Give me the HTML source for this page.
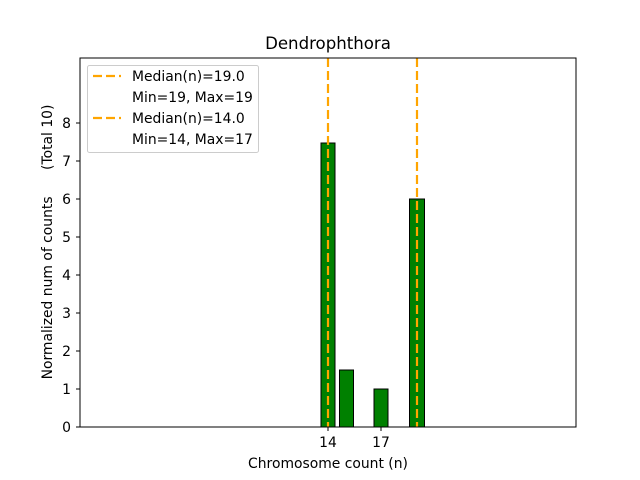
<!DOCTYPE html><html><head><style>body{margin:0;background:#fff}svg{display:block}text{font-family:"DejaVu Sans","Liberation Sans",sans-serif;font-size:13.9px;fill:#000;white-space:pre}</style></head><body>
<svg width="640" height="480" xmlns="http://www.w3.org/2000/svg">
<rect width="640" height="480" fill="#fff"/>
<g fill="green" stroke="#000" stroke-width="1">
<rect x="321" y="143" width="14" height="284"/>
<rect x="339.5" y="370" width="14" height="57"/>
<rect x="374" y="389" width="14" height="38"/>
<rect x="409.5" y="199" width="15" height="228"/>
</g>
<line x1="80" y1="427" x2="479" y2="427" stroke="#000"/>
<g stroke="orange" stroke-width="2.2" stroke-dasharray="9,4">
<line x1="328" y1="58" x2="328" y2="427"/>
<line x1="417" y1="58" x2="417" y2="427"/>
</g>
<rect x="80" y="58" width="496" height="369" fill="none" stroke="#000"/>
<g stroke="#000">
<line x1="76" y1="427" x2="80" y2="427"/><line x1="76" y1="389" x2="80" y2="389"/><line x1="76" y1="351" x2="80" y2="351"/><line x1="76" y1="313" x2="80" y2="313"/><line x1="76" y1="275" x2="80" y2="275"/><line x1="76" y1="237" x2="80" y2="237"/><line x1="76" y1="199" x2="80" y2="199"/><line x1="76" y1="161" x2="80" y2="161"/><line x1="76" y1="123" x2="80" y2="123"/>
<line x1="328" y1="427" x2="328" y2="431"/><line x1="381" y1="427" x2="381" y2="431"/>
</g>
<g text-anchor="end">
<text x="71" y="432">0</text><text x="71" y="394">1</text><text x="71" y="356">2</text><text x="71" y="318">3</text><text x="71" y="280">4</text><text x="71" y="242">5</text><text x="71" y="204">6</text><text x="71" y="166">7</text><text x="71" y="128">8</text>
</g>
<text x="328" y="447" text-anchor="middle">14</text><text x="381" y="447" text-anchor="middle">17</text>
<text x="328" y="468" text-anchor="middle">Chromosome count (n)</text>
<text x="328" y="49" text-anchor="middle" style="font-size:16.6px">Dendrophthora</text>
<text transform="translate(52,242) rotate(-90)" text-anchor="middle">Normalized num of counts      (Total 10)</text>
<rect x="87.5" y="65.5" width="171" height="87" rx="2" fill="#fff" fill-opacity="0.8" stroke="#ccc"/>
<g stroke="orange" stroke-width="2.2" stroke-dasharray="9,4">
<line x1="93" y1="76" x2="121" y2="76"/><line x1="93" y1="118" x2="121" y2="118"/>
</g>
<text x="132" y="81">Median(n)=19.0</text><text x="132" y="102">Min=19, Max=19</text>
<text x="132" y="123">Median(n)=14.0</text><text x="132" y="144">Min=14, Max=17</text>
</svg></body></html>
